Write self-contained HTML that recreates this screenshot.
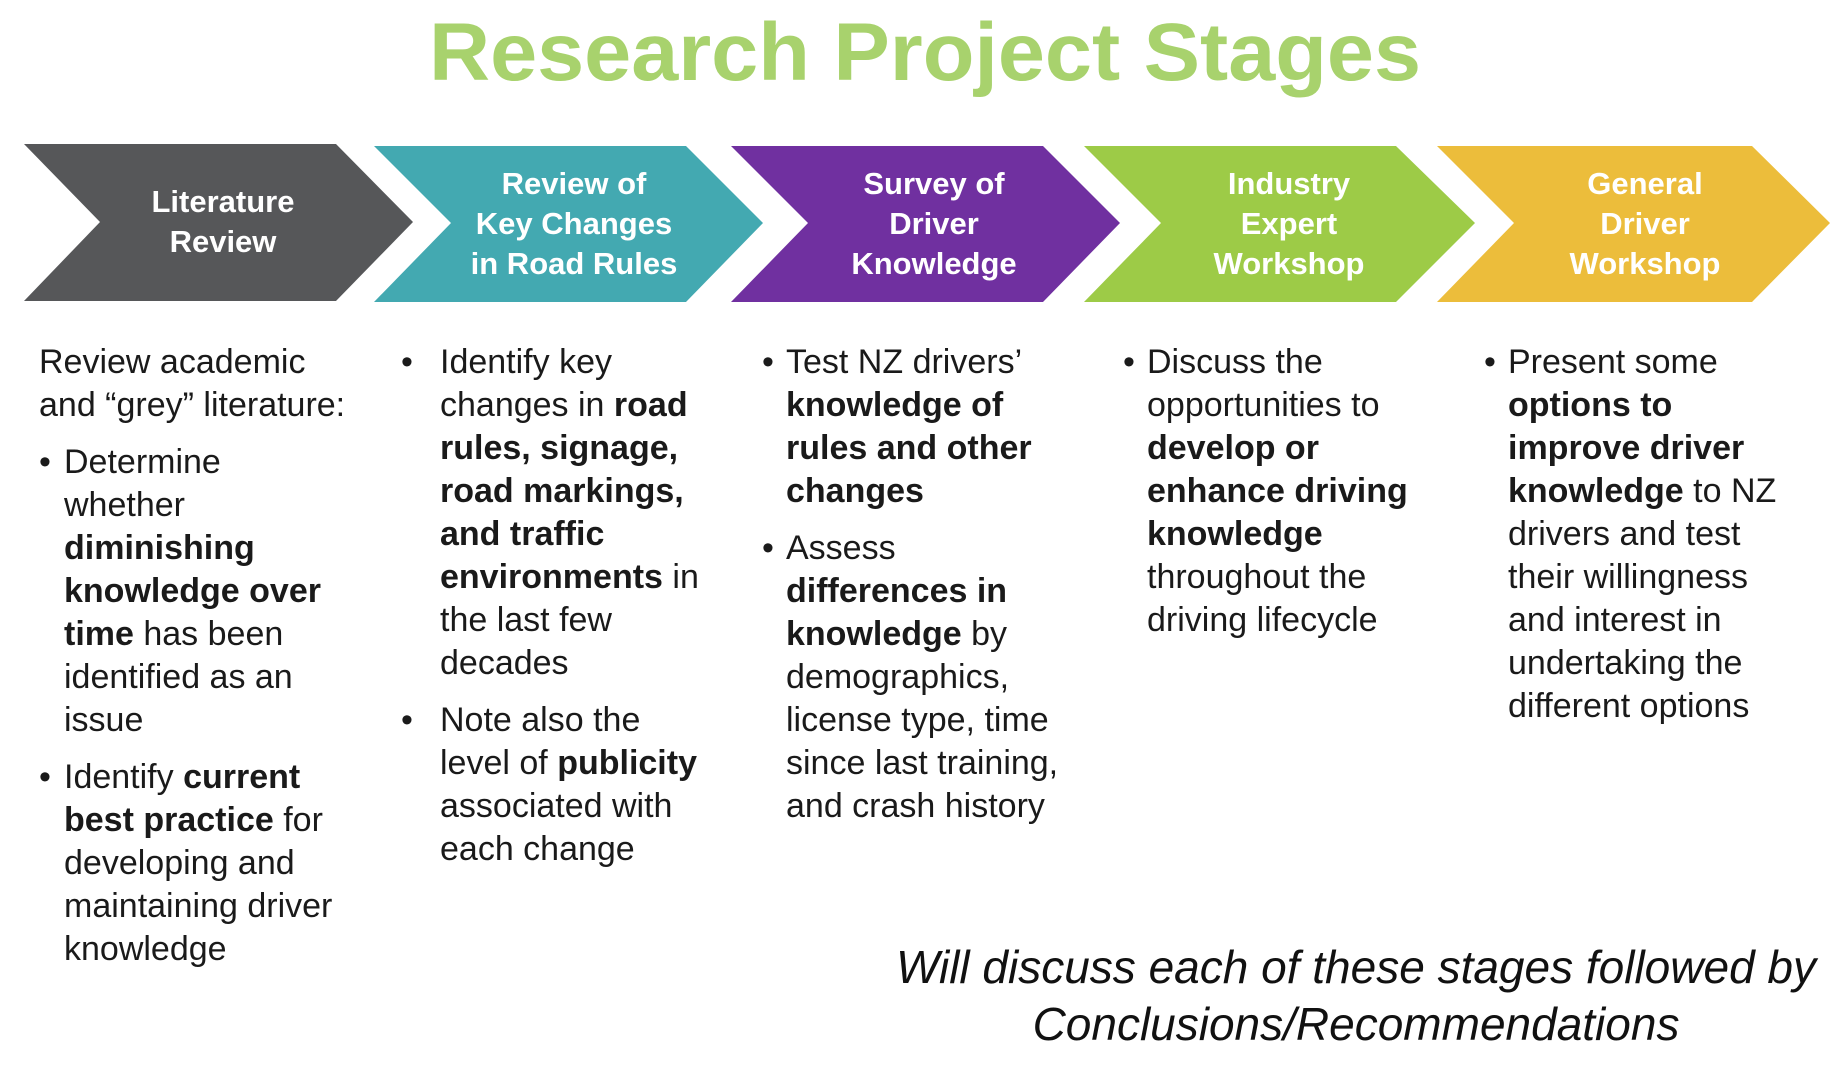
<!DOCTYPE html>
<html><head><meta charset="utf-8"><style>
body{margin:0;width:1847px;height:1067px;background:#fff;position:relative;overflow:hidden;font-family:"Liberation Sans",sans-serif;}
.col{position:absolute;top:341px;font-size:34px;line-height:43px;color:#1a1a1a;white-space:nowrap;}
.col p{margin:0 0 14px 0;position:relative;}
b{font-weight:bold;}
.foot{position:absolute;left:756px;width:1200px;top:939px;text-align:center;font-style:italic;font-size:46px;line-height:57px;color:#111;white-space:nowrap;}
</style></head><body>
<svg width="1847" height="1067" style="position:absolute;left:0;top:0">
<text x="925" y="80" text-anchor="middle" font-family="Liberation Sans" font-weight="bold" font-size="82" fill="#a8d26d" textLength="992" lengthAdjust="spacingAndGlyphs">Research Project Stages</text>
<polygon points="24,144 336,144 413,222 336,301 24,301 100,222" fill="#565759"/>
<polygon points="374,146 686,146 763,223 686,302 374,302 451,223" fill="#43a9b1"/>
<polygon points="731,146 1043,146 1120,223 1043,302 731,302 808,223" fill="#7030a0"/>
<polygon points="1084,146 1396,146 1475,223 1396,302 1084,302 1161,223" fill="#9dcb47"/>
<polygon points="1437,146 1752,146 1830,223 1752,302 1437,302 1514,223" fill="#ecbd3b"/>
<g font-family="Liberation Sans" font-weight="bold" font-size="31" fill="#fff" text-anchor="middle">
<text x="223" y="212">Literature</text><text x="223" y="252">Review</text>
<text x="574" y="194">Review of</text><text x="574" y="234">Key Changes</text><text x="574" y="274">in Road Rules</text>
<text x="934" y="194">Survey of</text><text x="934" y="234">Driver</text><text x="934" y="274">Knowledge</text>
<text x="1289" y="194">Industry</text><text x="1289" y="234">Expert</text><text x="1289" y="274">Workshop</text>
<text x="1645" y="194">General</text><text x="1645" y="234">Driver</text><text x="1645" y="274">Workshop</text>
</g>
</svg>
<div class="col" style="left:39px">
<p>Review academic<br>and “grey” literature:</p>
<p style="padding-left:25px"><span style="position:absolute;left:0">•</span>Determine<br>whether<br><b>diminishing<br>knowledge over<br>time</b> has been<br>identified as an<br>issue</p>
<p style="padding-left:25px"><span style="position:absolute;left:0">•</span>Identify <b>current<br>best practice</b> for<br>developing and<br>maintaining driver<br>knowledge</p>
</div>
<div class="col" style="left:401px">
<p style="padding-left:39px"><span style="position:absolute;left:0">•</span>Identify key<br>changes in <b>road<br>rules, signage,<br>road markings,<br>and traffic<br>environments</b> in<br>the last few<br>decades</p>
<p style="padding-left:39px"><span style="position:absolute;left:0">•</span>Note also the<br>level of <b>publicity</b><br>associated with<br>each change</p>
</div>
<div class="col" style="left:762px">
<p style="padding-left:24px"><span style="position:absolute;left:0">•</span>Test NZ drivers’<br><b>knowledge of<br>rules and other<br>changes</b></p>
<p style="padding-left:24px"><span style="position:absolute;left:0">•</span>Assess<br><b>differences in<br>knowledge</b> by<br>demographics,<br>license type, time<br>since last training,<br>and crash history</p>
</div>
<div class="col" style="left:1123px">
<p style="padding-left:24px"><span style="position:absolute;left:0">•</span>Discuss the<br>opportunities to<br><b>develop or<br>enhance driving<br>knowledge</b><br>throughout the<br>driving lifecycle</p>
</div>
<div class="col" style="left:1484px">
<p style="padding-left:24px"><span style="position:absolute;left:0">•</span>Present some<br><b>options to<br>improve driver<br>knowledge</b> to NZ<br>drivers and test<br>their willingness<br>and interest in<br>undertaking the<br>different options</p>
</div>
<div class="foot">Will discuss each of these stages followed by<br>Conclusions/Recommendations</div>
</body></html>
